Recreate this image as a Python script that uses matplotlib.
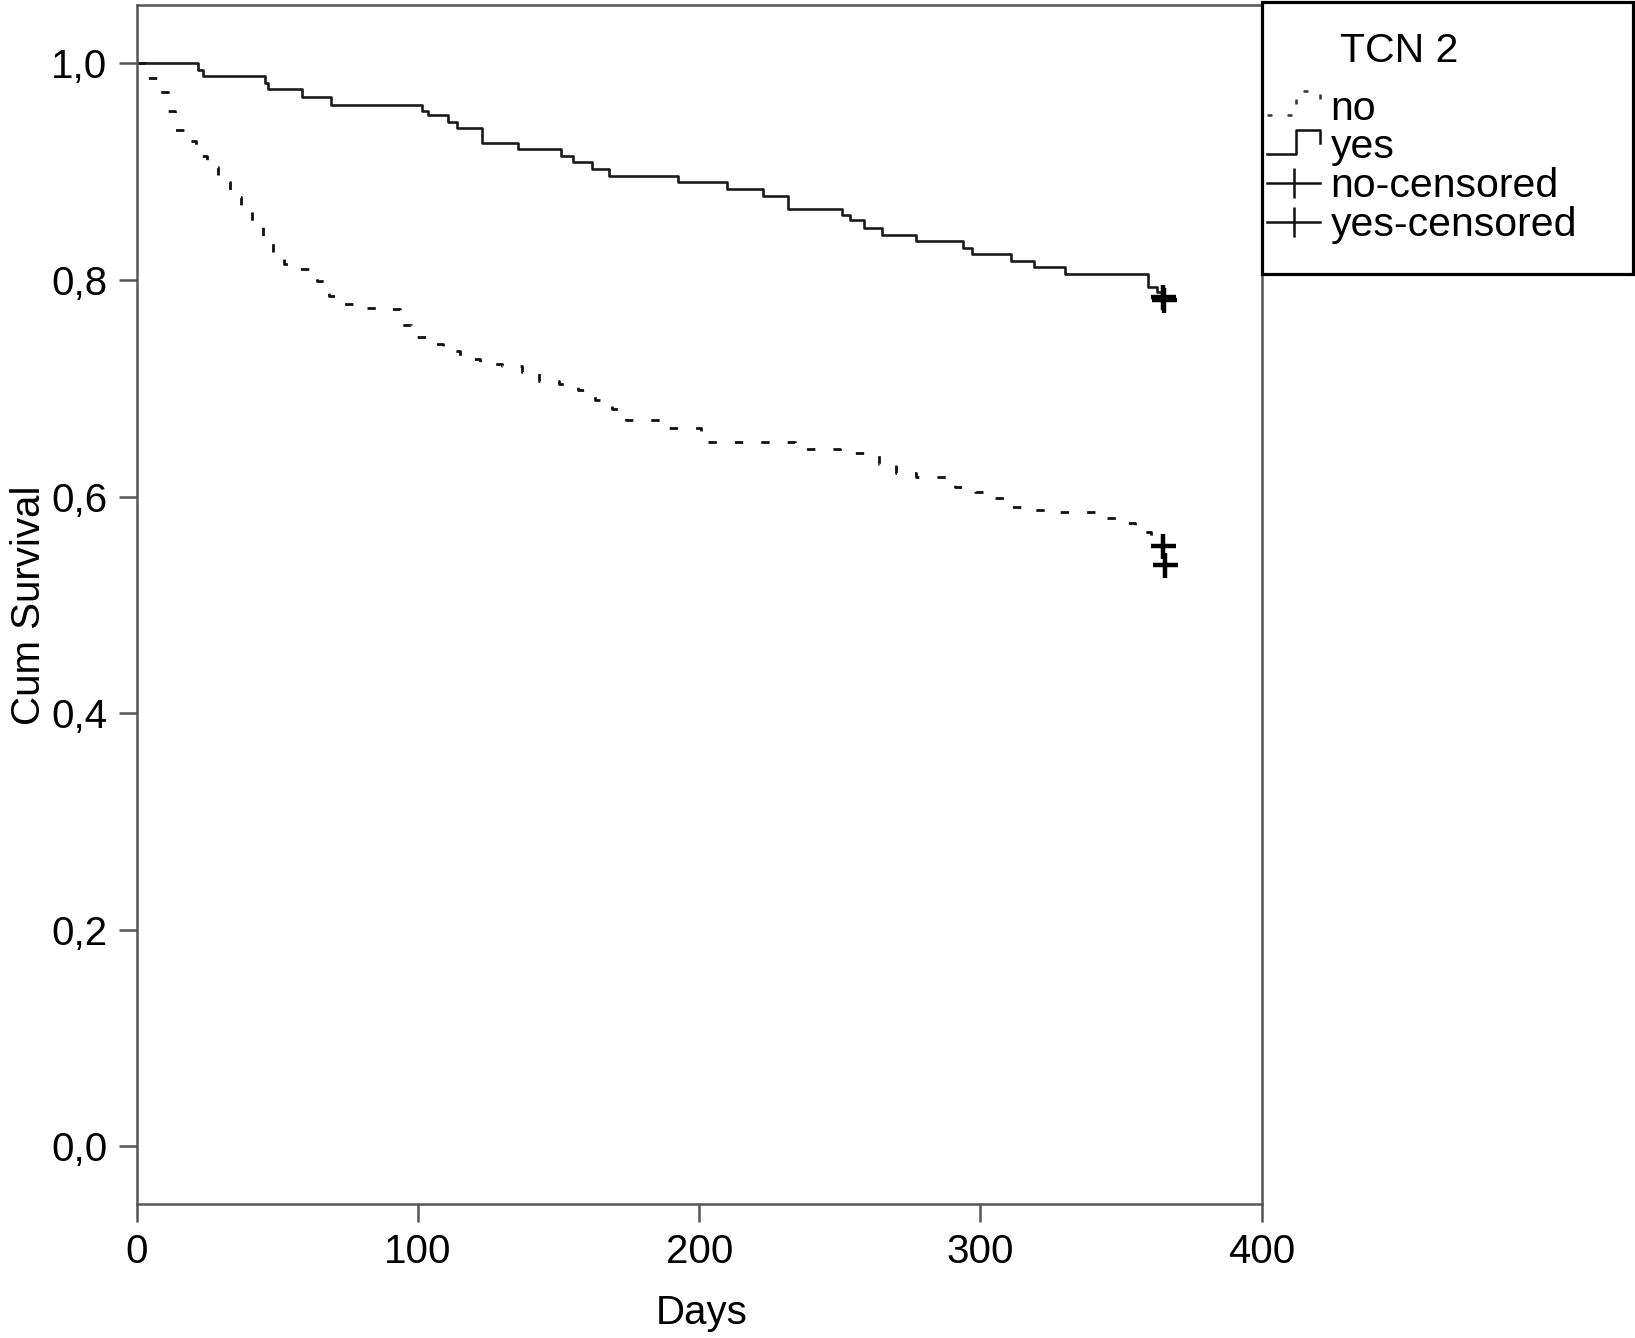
import matplotlib
matplotlib.use("Agg")
import matplotlib.pyplot as plt
from matplotlib.lines import Line2D
from matplotlib.patches import Rectangle
from matplotlib.legend_handler import HandlerBase
from matplotlib.ticker import FuncFormatter

plt.rcParams['font.family'] = ['Liberation Sans', 'DejaVu Sans']

# ---- data ----
yes_days = [0, 21.9, 23.7, 45.6, 46.8, 58.9, 69.0, 101.3, 103.7, 110.8, 113.8,
            122.7, 135.7, 151.0, 155.0, 162.0, 168.0, 192.6, 209.8, 222.8,
            231.7, 250.7, 253.6, 258.6, 264.9, 277.1, 293.9, 296.9, 310.7,
            318.9, 330.0, 359.7, 362.7, 364.5, 365.0]
yes_surv = [1.0, 0.994, 0.988, 0.982, 0.976, 0.969, 0.962, 0.956, 0.952, 0.946,
            0.940, 0.927, 0.921, 0.915, 0.909, 0.903, 0.896, 0.891, 0.884,
            0.878, 0.866, 0.860, 0.855, 0.848, 0.842, 0.836, 0.830, 0.824,
            0.818, 0.812, 0.806, 0.794, 0.789, 0.783, 0.783]

no_days = [0, 3, 8, 11, 13.5, 17, 21, 25, 29, 33, 37, 41, 45, 48.5, 52.5, 58,
           64, 68.5, 73, 80, 86, 93.5, 97.5, 103, 109, 115, 122, 130, 137, 143,
           150, 157, 163, 169, 174, 188, 200.5, 234, 250, 264, 270, 277, 291,
           298, 305, 311, 318, 326, 342, 349, 355, 360.5, 363.5, 365.0]
no_surv = [1.0, 0.987, 0.974, 0.956, 0.939, 0.928, 0.915, 0.904, 0.891, 0.877,
           0.864, 0.854, 0.838, 0.825, 0.815, 0.810, 0.799, 0.785, 0.778, 0.774,
           0.773, 0.758, 0.747, 0.741, 0.734, 0.727, 0.722, 0.721, 0.715, 0.707,
           0.704, 0.698, 0.689, 0.681, 0.671, 0.663, 0.650, 0.644, 0.640, 0.630,
           0.622, 0.618, 0.609, 0.604, 0.599, 0.590, 0.588, 0.586, 0.580, 0.576,
           0.567, 0.558, 0.554, 0.537]

no_cens_days = [365.0, 365.5]
no_cens_surv = [0.554, 0.537]
yes_cens_days = [365.0, 365.3]
yes_cens_surv = [0.784, 0.782]

x_ticks = [0, 100, 200, 300, 400]
y_ticks = [0.0, 0.2, 0.4, 0.6, 0.8, 1.0]
legend_labels = ["no", "yes", "no-censored", "yes-censored"]
legend_title = "TCN 2"

# ---- figure ----
fig = plt.figure(figsize=(16.35, 13.38), dpi=100)
ax = fig.add_axes([0.0836, 0.100, 0.7717 - 0.0836, 0.996 - 0.100])

spine_col = '#555555'
no_dash = (0, (3.0, 6.5))
ax.step(yes_days, yes_surv, where='post', color='#1a1a1a', lw=1.9)
ax.step(no_days, no_surv, where='post', color='#111111', lw=2.0,
        linestyle=no_dash)
ax.plot(no_cens_days, no_cens_surv, linestyle='none', marker='+',
        markersize=18, mew=3.2, color='black')
ax.plot(yes_cens_days, yes_cens_surv, linestyle='none', marker='+',
        markersize=18, mew=3.2, color='black')

ax.set_xlim(0, 400)
ax.set_ylim(-0.0536, 1.0537)
ax.set_xticks(x_ticks)
ax.set_yticks(y_ticks)
ax.yaxis.set_major_formatter(FuncFormatter(lambda v, p: f"{v:.1f}".replace('.', ',')))
ax.tick_params(axis='both', direction='out', length=13, width=1.8,
               color=spine_col, labelsize=29, pad=8)
for s in ax.spines.values():
    s.set_color(spine_col)
    s.set_linewidth(1.8)

ax.set_xlabel("Days", fontsize=29)
ax.set_ylabel("Cum Survival", fontsize=29)
ax.xaxis.set_label_coords(0.5025, -0.075)
ax.yaxis.set_label_coords(-0.079, 0.5)


class StepHandler(HandlerBase):
    def create_artists(self, legend, orig_handle, xdescent, ydescent,
                       width, height, fontsize, trans):
        x0, y0 = -xdescent, -ydescent
        xs = [x0, x0 + 0.55 * width, x0 + 0.55 * width, x0 + width, x0 + width]
        ys = [y0 + 0.15 * height, y0 + 0.15 * height, y0 + 1.0 * height,
              y0 + 1.0 * height, y0 + 0.55 * height]
        ln = Line2D(xs, ys)
        ln.update_from(orig_handle)
        ln.set_transform(trans)
        return [ln]


h_no = Line2D([], [], color='#333333', lw=1.8, linestyle=(0, (2, 6)))
h_yes = Line2D([], [], color='#111111', lw=1.8)
h_nc = Line2D([], [], color='#111111', lw=1.8, marker='|', markersize=21,
              mew=1.8)
h_yc = Line2D([], [], color='#111111', lw=1.8, marker='|', markersize=21,
              mew=1.8)

leg = fig.legend([h_no, h_yes, h_nc, h_yc], legend_labels,
                 loc='upper left', bbox_to_anchor=(0.775, 0.933),
                 bbox_transform=fig.transFigure, frameon=False,
                 borderpad=0, borderaxespad=0, fontsize=29.5,
                 handlelength=1.3, handletextpad=0.25, labelspacing=0.02,
                 numpoints=1,
                 handler_map={h_no: StepHandler(), h_yes: StepHandler()})

fig.text(0.8195, 0.962, legend_title, fontsize=29.5, ha='left', va='center')
fig.patches.append(Rectangle((0.7717, 0.795), 0.2271, 0.2035,
                             transform=fig.transFigure, fill=False,
                             edgecolor='black', lw=2.3, zorder=5))

fig.savefig("out.png", dpi=100)
